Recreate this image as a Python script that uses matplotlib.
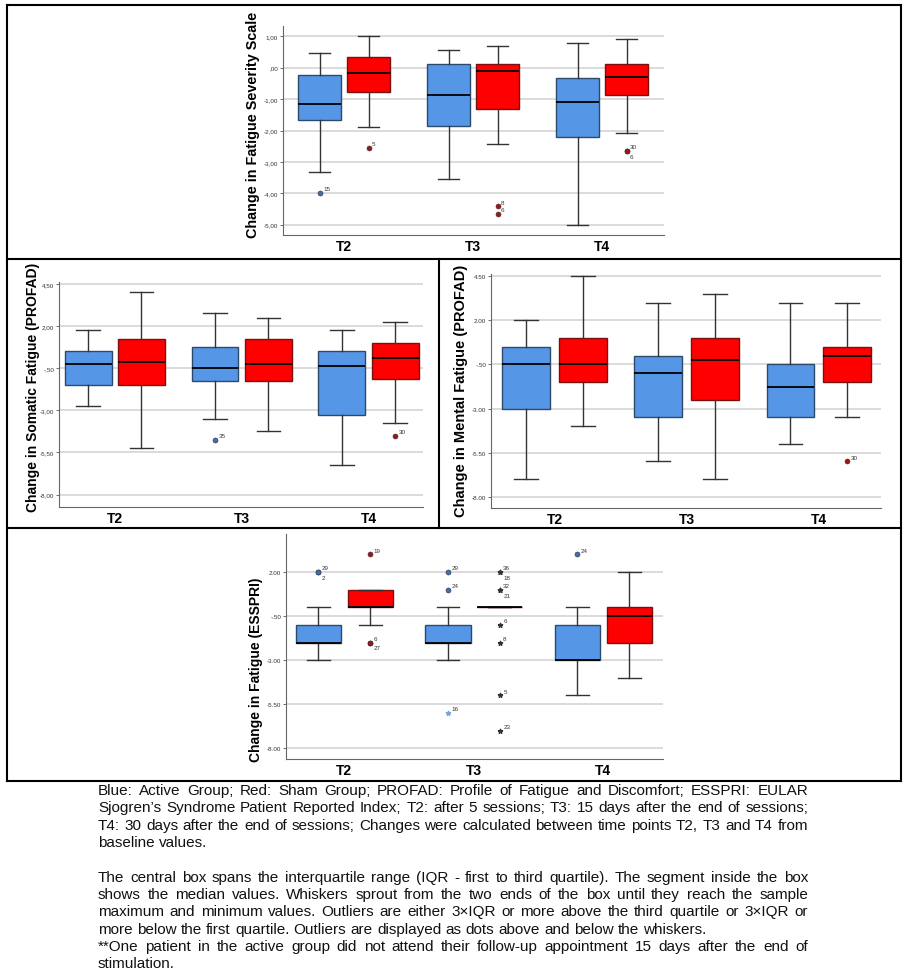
import matplotlib.pyplot as plt
from matplotlib import font_manager
from matplotlib.lines import Line2D

W, H = 906, 978
plt.rcParams['font.family'] = ['Liberation Sans', 'DejaVu Sans']

groups = ['T2', 'T3', 'T4']

# five-number summaries per time point: [min, q1, median, q3, max]
fss_active = [[-3.33, -1.65, -1.15, -0.22, 0.46],
              [-3.54, -1.87, -0.87, 0.11, 0.58],
              [-5.00, -2.22, -1.10, -0.33, 0.80]]
fss_sham = [[-1.88, -0.77, -0.16, 0.34, 1.00],
            [-2.44, -1.33, -0.10, 0.11, 0.68],
            [-2.09, -0.88, -0.28, 0.11, 0.90]]
fss_active_out = [[(-4.00, '15', 'o')], [], []]
fss_sham_out = [[(-2.56, '5', 'o')],
                [(-4.42, '8', 'o'), (-4.66, '6', 'o')],
                [(-2.64, '30', 'o'), (-2.64, '6', 'o')]]
fss_ticks = [1, 0, -1, -2, -3, -4, -5]
fss_ticklabels = ['1,00', ',00', '-1,00', '-2,00', '-3,00', '-4,00', '-5,00']

som_active = [[-2.77, -1.51, -0.24, 0.51, 1.75],
              [-3.50, -1.25, -0.50, 0.75, 2.75],
              [-6.25, -3.25, -0.38, 0.50, 1.75]]
som_sham = [[-5.25, -1.50, -0.12, 1.25, 4.00],
            [-4.25, -1.25, -0.25, 1.25, 2.50],
            [-3.75, -1.13, 0.12, 1.00, 2.25]]
som_active_out = [[], [(-4.75, '35', 'o')], []]
som_sham_out = [[], [], [(-4.50, '30', 'o')]]
som_ticks = [4.5, 2, -0.5, -3, -5.5, -8]
som_ticklabels = ['4,50', '2,00', '-,50', '-3,00', '-5,50', '-8,00']

men_active = [[-7.0, -3.0, -0.5, 0.5, 2.0],
              [-6.0, -3.5, -1.0, 0.0, 3.0],
              [-5.0, -3.5, -1.75, -0.5, 3.0]]
men_sham = [[-4.0, -1.5, -0.5, 1.0, 4.5],
            [-7.0, -2.5, -0.25, 1.0, 3.5],
            [-3.5, -1.5, 0.0, 0.5, 3.0]]
men_active_out = [[], [], []]
men_sham_out = [[], [], [(-6.0, '30', 'o')]]
men_ticks = [4.5, 2, -0.5, -3, -5.5, -8]
men_ticklabels = ['4.50', '2.00', '-.50', '-3.00', '-5.50', '-8.00']

ess_active = [[-3, -2, -2, -1, 0],
              [-3, -2, -2, -1, 0],
              [-5, -3, -3, -1, 0]]
ess_sham = [[-1, 0, 0, 1, 1],
            [0, 0, 0, 0, 0],
            [-4, -2, -0.5, 0, 2]]
ess_active_out = [[(2, '29', 'o'), (2, '2', 'o')],
                  [(2, '29', 'o'), (1, '24', 'o'), (-6, '16', '*')],
                  [(3, '24', 'o')]]
ess_sham_out = [[(3, '19', 'o'), (-2, '6', 'o'), (-2, '27', 'o')],
                [(2, '36', '*'), (2, '18', '*'), (1, '32', '*'), (1, '21', '*'),
                 (-1, '6', '*'), (-2, '8', '*'), (-5, '5', '*'), (-7, '23', '*')],
                []]
ess_ticks = [2, -0.5, -3, -5.5, -8]
ess_ticklabels = ['2.00', '-.50', '-3.00', '-5.50', '-8.00']

blue, red = '#5596E6', '#FF0000'

fig = plt.figure(figsize=(W / 100, H / 100), dpi=100)
r = fig.canvas.get_renderer()


def fit_text(t, target, vertical=True):
    ext = t.get_window_extent(r)
    size = ext.height if vertical else ext.width
    t.set_fontsize(t.get_fontsize() * target / size)


def panel(rect, active, sham, active_out, sham_out, ticks, ticklabels,
          ylim, xlim, off, bw, ylabel, lab_xy, lab_len):
    l, t, rr, b = rect
    ax = fig.add_axes([l / W, 1 - b / H, (rr - l) / W, (b - t) / H])
    for series, out, sign, fc, ec, fcol in [
            (active, active_out, -1, blue, '#2E4A6B', '#3E6FB5'),
            (sham, sham_out, 1, red, '#7A1010', '#A01515')]:
        stats = [dict(whislo=s[0], q1=s[1], med=s[2], q3=s[3], whishi=s[4], fliers=[])
                 for s in series]
        pos = [g + sign * off for g in range(len(groups))]
        ax.bxp(stats, positions=pos, widths=bw, capwidths=bw * 0.5,
               patch_artist=True, showfliers=False,
               boxprops=dict(facecolor=fc, edgecolor=ec, lw=1.0),
               medianprops=dict(color='black', lw=1.3),
               whiskerprops=dict(color='#333333', lw=1.0),
               capprops=dict(color='#333333', lw=1.0))
        for p, pts in zip(pos, out):
            seen = []
            for v, lab, mk in pts:
                if mk == '*':
                    col = '#6FA8DC' if sign < 0 else '#333333'
                    ax.scatter([p], [v], marker='*', s=10, color=col, zorder=5)
                else:
                    ax.scatter([p], [v], marker='o', s=13, color=fcol,
                               edgecolors='#333333', linewidths=0.4, zorder=5)
                dy = -5 if v in seen else 2
                ax.annotate(lab, (p, v), xytext=(2.5, dy), textcoords='offset points',
                            fontsize=4.5, color='#333333')
                seen.append(v)
    ax.set_xlim(*xlim)
    ax.set_ylim(*ylim)
    ax.set_yticks(ticks, ticklabels)
    ax.set_xticks(range(len(groups)), groups)
    ax.tick_params(axis='y', labelsize=4.5, length=2, width=0.5, pad=1.5,
                   colors='#333333')
    ax.tick_params(axis='x', length=0, pad=3, labelsize=10)
    for lab in ax.get_xticklabels():
        lab.set_fontweight('bold')
    ax.yaxis.grid(True, color='#D4D4D4', lw=1.2)
    ax.set_axisbelow(True)
    for s in ['top', 'right']:
        ax.spines[s].set_visible(False)
    for s in ['left', 'bottom']:
        ax.spines[s].set_color('#666666')
        ax.spines[s].set_linewidth(0.8)
    yl = fig.text(lab_xy[0] / W, 1 - lab_xy[1] / H, ylabel, rotation=90,
                  ha='center', va='center', fontsize=10, fontweight='bold')
    fit_text(yl, lab_len)
    return ax


panel((283, 27, 664, 236), fss_active, fss_sham, fss_active_out, fss_sham_out,
      fss_ticks, fss_ticklabels, (-5.33, 1.33), (-0.473, 2.48), 0.19, 0.33,
      'Change in Fatigue Severity Scale', (253, 125), 226)
panel((59, 283, 423, 508), som_active, som_sham, som_active_out, som_sham_out,
      som_ticks, som_ticklabels, (-8.74, 4.62), (-0.44, 2.43), 0.21, 0.37,
      'Change in Somatic Fatigue (PROFAD)', (33, 387), 250)
panel((491, 275, 881, 509), men_active, men_sham, men_active_out, men_sham_out,
      men_ticks, men_ticklabels, (-8.64, 4.63), (-0.48, 2.47), 0.215, 0.36,
      'Change in Mental Fatigue (PROFAD)', (461, 391), 253)
panel((286, 535, 663, 760), ess_active, ess_sham, ess_active_out, ess_sham_out,
      ess_ticks, ess_ticklabels, (-8.61, 4.16), (-0.45, 2.46), 0.2, 0.35,
      'Change in Fatigue (ESSPRI)', (256, 670), 185)

# table borders
for x0, y0, x1, y1 in [(7, 6, 901, 6), (7, 782, 901, 782), (7, 6, 7, 782),
                       (901, 6, 901, 782), (7, 260, 901, 260), (7, 529, 901, 529),
                       (439, 260, 439, 529)]:
    fig.add_artist(Line2D([x0 / W, x1 / W], [1 - y0 / H, 1 - y1 / H],
                          transform=fig.transFigure, color='black', lw=1.5))

# caption, justified like the source
caption = [
    ("Blue: Active Group; Red: Sham Group; PROFAD: Profile of Fatigue and Discomfort; ESSPRI: EULAR", 791, True),
    ("Sjogren\u2019s Syndrome Patient Reported Index; T2: after 5 sessions; T3: 15 days after the end of sessions;", 808, True),
    ("T4: 30 days after the end of sessions; Changes were calculated between time points T2, T3 and T4 from", 826, True),
    ("baseline values.", 843, False),
    ("The central box spans the interquartile range (IQR - first to third quartile). The segment inside the box", 878, True),
    ("shows the median values. Whiskers sprout from the two ends of the box until they reach the sample", 895, True),
    ("maximum and minimum values. Outliers are either 3\u00d7IQR or more above the third quartile or 3\u00d7IQR or", 912, True),
    ("more below the first quartile. Outliers are displayed as dots above and below the whiskers.", 930, False),
    ("**One patient in the active group did not attend their follow-up appointment 15 days after the end of", 947, True),
    ("stimulation.", 964, False),
]
installed = {f.name for f in font_manager.fontManager.ttflist}
cap_family = 'Liberation Sans Narrow' if 'Liberation Sans Narrow' in installed else 'Liberation Sans'
cap_x0, cap_x1 = 98, 808

# size the caption so the longest justified line only needs a little stretch
widest = 0
for text, y, justify in caption:
    if justify:
        probe = fig.text(0, 0, text, fontsize=10, family=cap_family)
        widest = max(widest, probe.get_window_extent(r).width)
        probe.remove()
cap_fs = 10 * (cap_x1 - cap_x0 - 6) / widest
sp = fig.text(0, 0, 'x x', fontsize=cap_fs, family=cap_family)
nsp = fig.text(0, 0, 'xx', fontsize=cap_fs, family=cap_family)
space_w = sp.get_window_extent(r).width - nsp.get_window_extent(r).width
sp.remove()
nsp.remove()

for text, y, justify in caption:
    words = text.split(' ')
    items = [fig.text(0, 1 - y / H, w, fontsize=cap_fs, family=cap_family,
                      va='center', color='#111111') for w in words]
    widths = [t.get_window_extent(r).width for t in items]
    gap = space_w
    if justify and len(words) > 1:
        gap = (cap_x1 - cap_x0 - sum(widths)) / (len(words) - 1)
    x = cap_x0
    for t, w in zip(items, widths):
        t.set_x(x / W)
        x += w + gap

fig.savefig('out.png', dpi=100)
